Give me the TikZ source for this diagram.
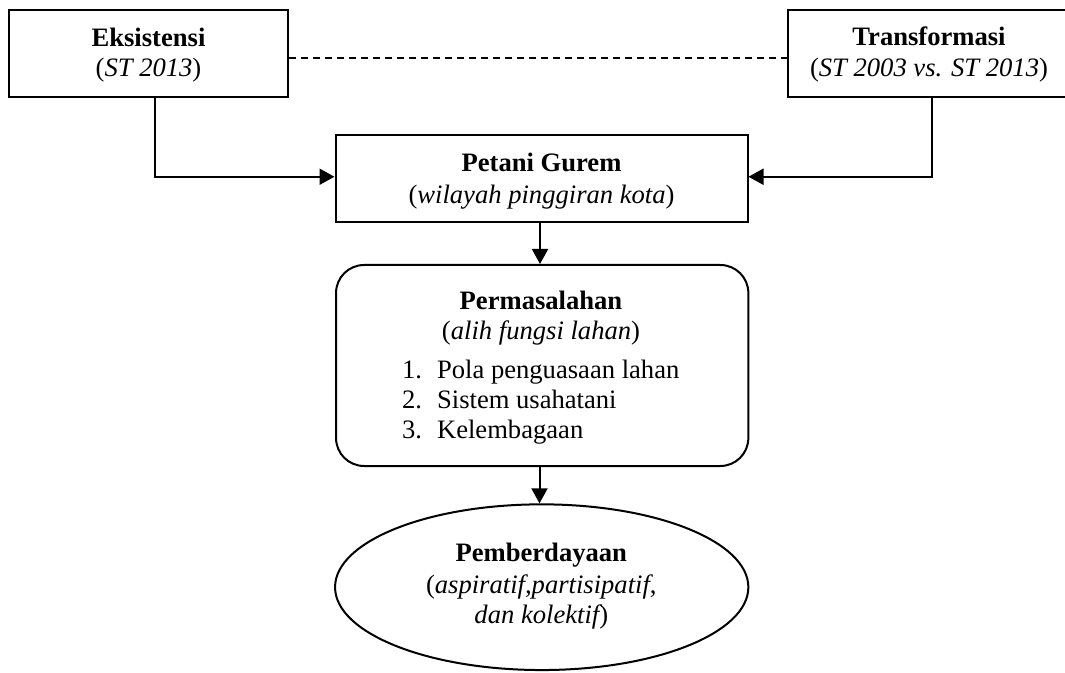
\documentclass[tikz,border=0pt]{standalone}
\usepackage{fontspec}
\setmainfont{Liberation Serif}
\usetikzlibrary{arrows.meta,shapes.geometric}
\begin{document}
\begin{tikzpicture}[x=0.5pt,y=-0.5pt,
  shapebox/.style={draw,line width=1pt,inner sep=0pt,minimum height=43.35pt},
  txt/.style={anchor=base,inner sep=0pt,font=\fontsize{13.3}{15}\selectfont},
  ltxt/.style={anchor=base west,inner sep=0pt,font=\fontsize{13.3}{15}\selectfont},
  conn/.style={line width=1pt},
  arr/.style={line width=1pt,-{Triangle[length=7.5pt,width=8pt]}},
  dashline/.style={line width=0.9pt,dash pattern=on 3.5pt off 2.5pt}]
\useasboundingbox (0,0) rectangle (1065,673);
\clip (0,0) rectangle (1065,673);
% shapes
\node[shapebox,minimum width=139.65pt] (eks) at (148.7,53.3) {};
\node[shapebox,minimum width=140.85pt] (trans) at (929.2,53.3) {};
\node[shapebox,minimum width=206pt] (petani) at (541.5,178.35) {};
\node[draw,line width=1pt,inner sep=0pt,rounded corners=14pt,minimum width=206.15pt,minimum height=100.5pt] (perm) at (542.2,365.5) {};
\node[draw,ellipse,line width=1pt,inner sep=0pt,minimum width=206.65pt,minimum height=82.85pt] (ell) at (541.7,587.2) {};
% texts
\node[txt] (eksA) at (148.5,46.7) {\bfseries Eksistensi};
\node[txt] (eksB) at (148.5,76.7) {({\itshape ST 2013})};
\node[txt] (trA) at (929,46) {\bfseries Transformasi};
\node[txt] (trB) at (929,76.7) {({\itshape ST 2003 vs. ST 2013})};
\node[txt] (peA) at (541.5,171.7) {\bfseries Petani Gurem};
\node[txt] (peB) at (541.5,203.3) {({\itshape wilayah pinggiran kota})};
\node[txt] (pmA) at (541,310) {\bfseries Permasalahan};
\node[txt] (pmB) at (541,340) {({\itshape alih fungsi lahan})};
\node[ltxt] (l1) at (401.7,378.3) {\makebox[17.5pt][l]{1.}Pola penguasaan lahan};
\node[ltxt] (l2) at (401.7,408.3) {\makebox[17.5pt][l]{2.}Sistem usahatani};
\node[ltxt] (l3) at (401.7,438.3) {\makebox[17.5pt][l]{3.}Kelembagaan};
\node[txt] (pbA) at (541.3,561.7) {\bfseries Pemberdayaan};
\node[txt] (pbB) at (541.3,593.3) {({\itshape aspiratif,partisipatif},};
\node[txt] (pbC) at (541.3,623.3) {{\itshape dan kolektif})};
% connectors
\coordinate (cl) at (155,0);
\coordinate (cr) at (932.3,0);
\draw[dashline] ([yshift=-2.5pt]eks.east) -- ([yshift=-2.5pt]trans.west);
\draw[arr] (eks.south -| cl) |- ([yshift=0.8pt]petani.west);
\draw[arr] (trans.south -| cr) |- ([yshift=0.8pt]petani.east);
\draw[arr] (petani.south -| 540,0) -- (perm.north -| 540,0);
\draw[arr] (perm.south -| 539.5,0) -- (ell.north -| 539.5,0);
\end{tikzpicture}
\end{document}
